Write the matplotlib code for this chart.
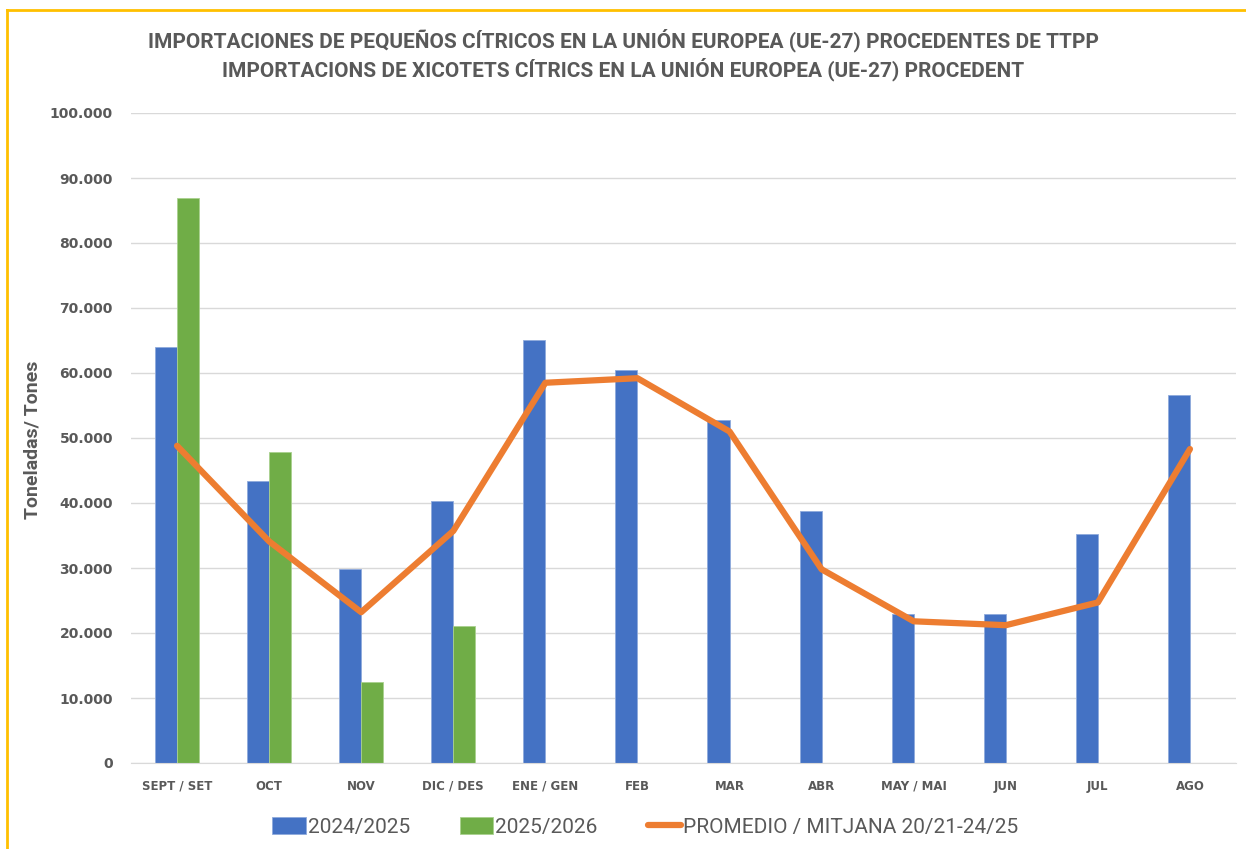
import numpy as np
import matplotlib.pyplot as plt
from matplotlib.lines import Line2D
from matplotlib.ticker import FuncFormatter

meses = ["SEPT / SET", "OCT", "NOV", "DIC / DES", "ENE / GEN", "FEB",
         "MAR", "ABR", "MAY / MAI", "JUN", "JUL", "AGO"]
t_2425 = [64000, 43400, 29800, 40300, 65100, 60400,
          52700, 38800, 23000, 23000, 35200, 56600]
t_2526 = [86900, 47800, 12500, 21100]
promedio = [48800, 34100, 23200, 35700, 58500, 59200,
            51000, 29800, 21800, 21200, 24700, 48300]

gris = "#595959"
azul = "#4472C4"
verde = "#70AD47"
naranja = "#ED7D31"

fig = plt.figure(figsize=(12.46, 8.49), dpi=100)
ax = fig.add_axes([131 / 1246, 1 - 763 / 849, (1236 - 131) / 1246, (763 - 113) / 849])

x = np.arange(len(meses))
w = 0.24
b1 = ax.bar(x - w / 2, t_2425, w, color=azul, edgecolor="#8FAADC", linewidth=0.6, zorder=2)
b2 = ax.bar(x[:len(t_2526)] + w / 2, t_2526, w, color=verde, edgecolor="#A9D18E", linewidth=0.6, zorder=2)
l1, = ax.plot(x, promedio, color=naranja, linewidth=4.5, solid_capstyle="round", solid_joinstyle="round",
              zorder=3)

ax.set_xlim(-0.5, len(meses) - 0.5)
ax.set_ylim(0, 100000)
ax.set_yticks(np.arange(0, 100001, 10000))
ax.yaxis.set_major_formatter(FuncFormatter(lambda v, p: f"{int(v):,}".replace(",", ".")))
ax.grid(axis="y", color="#D9D9D9", linewidth=1, zorder=0)
for s in ["top", "right", "left"]:
    ax.spines[s].set_visible(False)
ax.spines["bottom"].set_color("#D9D9D9")
ax.tick_params(length=0)
ax.set_xticks(x)
ax.set_xticklabels(meses, fontsize=8.5, fontweight="bold", color=gris)
ax.tick_params(axis="x", pad=12)
ax.tick_params(axis="y", pad=13)
for t in ax.get_yticklabels():
    t.set_fontsize(10)
    t.set_fontweight("bold")
    t.set_color(gris)

fig.text(33 / 1246, 1 - 440 / 849, "Toneladas/ Tones", rotation=90, ha="center", va="center",
         fontsize=14, fontweight="bold", color=gris, fontfamily="Roboto")

fig.text(0.5, 1 - 40 / 849, "IMPORTACIONES DE PEQUEÑOS CÍTRICOS EN LA UNIÓN EUROPEA (UE-27) PROCEDENTES DE TTPP",
         ha="center", va="center", fontsize=15, fontweight="bold", color=gris, fontfamily="Roboto")
fig.text(0.5, 1 - 69 / 849, "IMPORTACIONS DE XICOTETS CÍTRICS EN LA UNIÓN EUROPEA (UE-27) PROCEDENT",
         ha="center", va="center", fontsize=15, fontweight="bold", color=gris, fontfamily="Roboto")

fig.legend([b1, b2, l1], ["2024/2025", "2025/2026", "PROMEDIO / MITJANA 20/21-24/25"],
           loc="center", bbox_to_anchor=(0.518, 1 - 827 / 849), ncol=3, frameon=False,
           prop={"family": "Roboto", "size": 15}, labelcolor=gris, handlelength=1.6, handleheight=0.9,
           handletextpad=0.1, columnspacing=2.4)

# marco dorado (arriba e izquierda)
fig.add_artist(Line2D([7 / 1246, 1], [1 - 10 / 849, 1 - 10 / 849], color="#FFC000", linewidth=2,
                      transform=fig.transFigure))
fig.add_artist(Line2D([7 / 1246, 7 / 1246], [0, 1 - 10 / 849], color="#FFC000", linewidth=2,
                      transform=fig.transFigure))

fig.savefig("out.png", dpi=100)
